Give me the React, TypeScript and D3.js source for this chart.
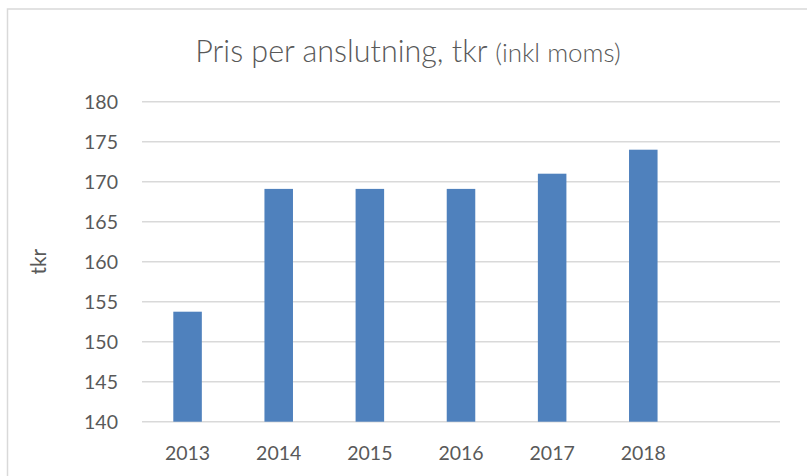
import React from "react";
import * as d3 from "d3";

// Pris per anslutning, tkr (inkl moms)
const years = ["2013", "2014", "2015", "2016", "2017", "2018"];
const prices = [153.75, 169.1, 169.1, 169.1, 171.0, 174.0];
const yTicks = [140, 145, 150, 155, 160, 165, 170, 175, 180];

const width = 807;
const height = 476;
const font = "Lato, 'Open Sans', sans-serif";
const textColor = "#595959";

export default function App() {
  // Excel leaves an empty slot after the last year
  const x = d3
    .scaleBand()
    .domain([...years, "blank"])
    .range([142, 780])
    .paddingInner(0.687)
    .paddingOuter(0.687 / 2);

  const y = d3.scaleLinear().domain([140, 180]).range([421.7, 101.7]);

  return (
    <div style={{ position: "fixed", left: 0, top: 0 }}>
      <svg width={width} height={height} style={{ display: "block" }}>
        <rect x={0} y={0} width={width} height={height} fill="#fff" />
        {/* chart border, runs off the right and bottom */}
        <rect
          x={7.5}
          y={9}
          width={width + 10}
          height={height + 10}
          fill="none"
          stroke="#d9d9d9"
          strokeWidth={1.5}
        />

        <text
          x={408}
          y={62}
          textAnchor="middle"
          fontFamily={font}
          fontWeight={300}
          fill={textColor}
        >
          <tspan fontSize={30.5}>Pris per anslutning, tkr </tspan>
          <tspan fontSize={26}>(inkl moms)</tspan>
        </text>

        {/* gridlines */}
        {yTicks.map((t) => (
          <line
            key={t}
            x1={142}
            x2={780}
            y1={y(t)}
            y2={y(t)}
            stroke="#d9d9d9"
            strokeWidth={1.5}
          />
        ))}

        {/* y tick labels */}
        {yTicks.map((t) => (
          <text
            key={"l" + t}
            x={118}
            y={y(t)}
            dy="0.36em"
            textAnchor="end"
            fontFamily={font}
            fontSize={19.5}
            fill={textColor}
          >
            {t}
          </text>
        ))}

        <text
          transform={`translate(38,${y(160)}) rotate(-90)`}
          textAnchor="middle"
          dy="0.36em"
          fontFamily={font}
          fontSize={21}
          fill={textColor}
        >
          tkr
        </text>

        {/* bars */}
        {years.map((yr, i) => (
          <rect
            key={yr}
            x={x(yr)}
            y={y(prices[i])}
            width={x.bandwidth()}
            height={y(140) - y(prices[i])}
            fill="#4f81bd"
          />
        ))}

        {/* x labels */}
        {years.map((yr) => (
          <text
            key={"x" + yr}
            x={(x(yr) as number) + x.bandwidth() / 2}
            y={460}
            textAnchor="middle"
            fontFamily={font}
            fontSize={19.5}
            fill={textColor}
          >
            {yr}
          </text>
        ))}
      </svg>
    </div>
  );
}
